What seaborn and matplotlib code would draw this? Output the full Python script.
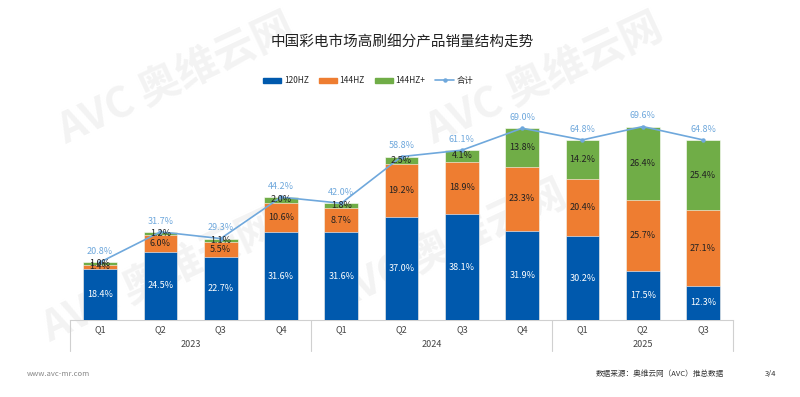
import numpy as np
import pandas as pd
import matplotlib
matplotlib.use("Agg")
import matplotlib.pyplot as plt
import seaborn as sns
from matplotlib.patches import Patch
from matplotlib.lines import Line2D

sns.set_theme(style="white")
plt.rcParams['font.family'] = ['Noto Sans CJK SC', 'DejaVu Sans']

# data (share of sales, %)
years = ["2023", "2024", "2025"]
quarters = ["Q1", "Q2", "Q3", "Q4", "Q1", "Q2", "Q3", "Q4", "Q1", "Q2", "Q3"]
periods = ["2023Q1", "2023Q2", "2023Q3", "2023Q4", "2024Q1", "2024Q2",
           "2024Q3", "2024Q4", "2025Q1", "2025Q2", "2025Q3"]
hz120 = [18.4, 24.5, 22.7, 31.6, 31.6, 37.0, 38.1, 31.9, 30.2, 17.5, 12.3]
hz144 = [1.4, 6.0, 5.5, 10.6, 8.7, 19.2, 18.9, 23.3, 20.4, 25.7, 27.1]
hz144p = [1.0, 1.2, 1.1, 2.0, 1.8, 2.5, 4.1, 13.8, 14.2, 26.4, 25.4]
total = [20.8, 31.7, 29.3, 44.2, 42.0, 58.8, 61.1, 69.0, 64.8, 69.6, 64.8]

BLUE = "#0059ad"
ORANGE = "#ee7d31"
GREEN = "#70ad47"
LINE = "#6fa8dc"

df = pd.DataFrame({"period": periods, "hz120": hz120, "hz144": hz144, "hz144p": hz144p})
df["top2"] = df["hz120"] + df["hz144"]
df["top3"] = df["top2"] + df["hz144p"]

fig = plt.figure(figsize=(8, 3.97), dpi=100)
ax = fig.add_axes([0.0875, 0.194, 0.829, 0.504])
ax.patch.set_alpha(0)

# faint watermark behind the chart
for (wx, wy) in [(0.22, 0.80), (0.68, 0.80), (0.56, 0.38), (0.20, 0.30)]:
    fig.text(wx, wy, "AVC 奥维云网", fontsize=30, color="#f3f3f3", rotation=25,
             ha="center", va="center", fontweight="bold", zorder=-1)

w = 0.56
sns.barplot(data=df, x="period", y="top3", color=GREEN, width=w, ax=ax,
            saturation=1, edgecolor="white", linewidth=0.4, zorder=2)
sns.barplot(data=df, x="period", y="top2", color=ORANGE, width=w, ax=ax,
            saturation=1, edgecolor="white", linewidth=0.4, zorder=3)
sns.barplot(data=df, x="period", y="hz120", color=BLUE, width=w, ax=ax,
            saturation=1, edgecolor="white", linewidth=0.4, zorder=4)

ax.plot(periods, total, color=LINE, lw=1.2, marker="o", markersize=2.2, zorder=6)

fs = 6.5
for i in range(len(periods)):
    ax.text(i, hz120[i] / 2, f"{hz120[i]:.1f}%", ha="center", va="center",
            color="white", fontsize=fs, zorder=7)
    ax.text(i, hz120[i] + hz144[i] / 2, f"{hz144[i]:.1f}%", ha="center", va="center",
            color="#222222", fontsize=fs, zorder=7)
    ax.text(i, df["top2"][i] + hz144p[i] / 2, f"{hz144p[i]:.1f}%", ha="center",
            va="center", color="#222222", fontsize=fs, zorder=7)
    ax.text(i, total[i] + 2.2, f"{total[i]:.1f}%", ha="center", va="bottom",
            color=LINE, fontsize=fs, zorder=7, clip_on=False)

ax.set_xlim(-0.5, len(periods) - 0.5)
ax.set_ylim(0, 72)
ax.set_xlabel("")
ax.set_ylabel("")
ax.set_yticks([])
ax.set_xticks([])
for s in ["top", "left", "right"]:
    ax.spines[s].set_visible(False)
ax.spines["bottom"].set_color("#d0d0d0")
ax.spines["bottom"].set_linewidth(0.8)

# two-level category table below the axis
trans = ax.get_xaxis_transform()
for i, q in enumerate(quarters):
    ax.text(i, -0.048, q, transform=trans, ha="center", va="center",
            fontsize=6.5, color="#444444")
year_spans = [(0, 3), (4, 7), (8, 10)]
for yr, (start, end) in zip(years, year_spans):
    ax.text((start + end) / 2, -0.122, yr, transform=trans, ha="center", va="center",
            fontsize=6.5, color="#444444")
for xb in [-0.5, 3.5, 7.5, 10.5]:
    ax.plot([xb, xb], [0, -0.155], transform=trans, color="#d0d0d0", lw=0.8,
            clip_on=False)

fig.text(0.503, 0.893, "中国彩电市场高刷细分产品销量结构走势", ha="center", va="center",
         fontsize=10.5, color="#222222")

handles = [Patch(color=BLUE), Patch(color=ORANGE), Patch(color=GREEN),
           Line2D([0], [0], color=LINE, marker="o", markersize=2.2, lw=1.2)]
fig.legend(handles, ["120HZ", "144HZ", "144HZ+", "合计"], loc="center",
           bbox_to_anchor=(0.46, 0.797), ncol=4, frameon=False, fontsize=6,
           handlelength=2.2, handleheight=0.5, columnspacing=1.2, handletextpad=0.3)

fig.text(0.033, 0.058, "www.avc-mr.com", fontsize=5.5, color="#888888", va="center")
fig.text(0.905, 0.058, "数据来源：奥维云网（AVC）推总数据", fontsize=5.5,
         color="#333333", va="center", ha="right")
fig.text(0.97, 0.058, "3/4", fontsize=5.5, color="#333333", va="center", ha="right")

fig.savefig("out.png", dpi=100, facecolor="white")
